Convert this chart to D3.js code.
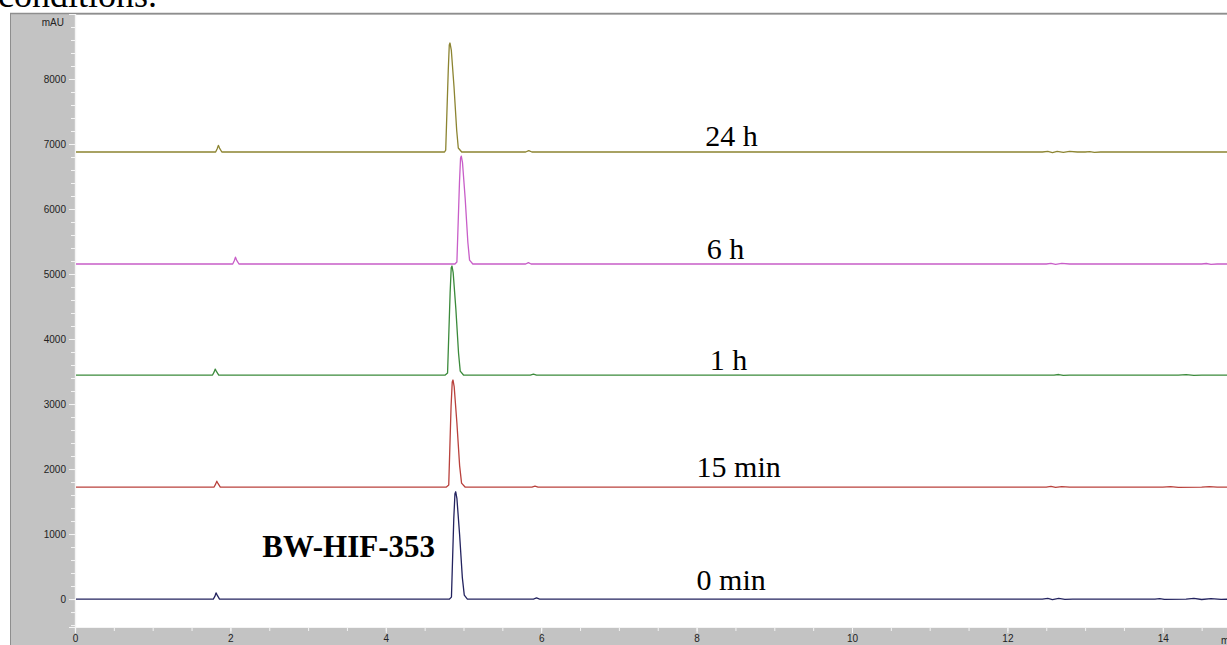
<!DOCTYPE html>
<html>
<head>
<meta charset="utf-8">
<script src="https://cdn.jsdelivr.net/npm/d3@7"></script>
<style>
  body { margin: 0; background: #fff; overflow: hidden; }
  svg { display: block; }
</style>
</head>
<body>
<div id="chart"></div>
<script>
// chromatogram traces, values in mAU above each trace's own offset
var traceNames   = ['0 min', '15 min', '1 h', '6 h', '24 h'];
var traceOffsets = [0, 1723, 3446, 5154, 6877];
var traceColors  = ['#23235f', '#b9413c', '#3b8a3b', '#c85ec8', '#8c8431'];

var trace0min = [[0,0],[1.78,0],[1.80,40],[1.815,95],[1.83,60],[1.86,0],
  [4.82,0],[4.845,30],[4.875,1240],[4.89,1620],[4.90,1650],[4.915,1550],[4.95,990],
  [4.985,330],[5.01,60],[5.05,0],[5.90,0],[5.94,18],[5.98,0],
  [12.45,0],[12.52,10],[12.58,-8],[12.66,9],[12.74,-6],[12.84,0],[13.9,0],[13.96,8],
  [14.02,-6],[14.3,0],[14.4,9],[14.5,-7],[14.62,8],[14.75,-5],[15,0]];
var trace15min = [[0,0],[1.79,0],[1.81,45],[1.825,90],[1.84,55],[1.87,0],
  [4.78,0],[4.81,30],[4.84,1240],[4.855,1615],[4.865,1646],[4.88,1545],[4.915,985],
  [4.95,330],[4.975,60],[5.02,0],[5.88,0],[5.92,15],[5.96,0],
  [12.5,0],[12.56,9],[12.62,-6],[12.7,8],[12.8,0],[14.0,0],[14.1,7],[14.2,-5],[14.5,0],[14.6,8],[14.7,0],[15,0]];
var trace1h = [[0,0],[1.77,0],[1.79,45],[1.805,92],[1.82,55],[1.85,0],
  [4.765,0],[4.795,30],[4.828,1270],[4.842,1650],[4.852,1677],[4.867,1575],[4.902,1010],
  [4.936,340],[4.958,60],[5.0,0],[5.86,0],[5.9,14],[5.94,0],
  [12.6,0],[12.66,8],[12.72,-5],[12.8,0],[14.2,0],[14.3,7],[14.4,-6],[14.5,0],[15,0]];
var trace6h = [[0,0],[2.03,0],[2.05,50],[2.065,105],[2.08,60],[2.11,0],
  [4.89,0],[4.915,30],[4.948,1250],[4.962,1630],[4.972,1660],[4.987,1560],[5.022,1000],
  [5.056,335],[5.078,60],[5.12,0],[5.80,0],[5.835,22],[5.87,0],
  [12.5,0],[12.56,10],[12.62,-7],[12.7,9],[12.8,0],[14.5,0],[14.56,8],[14.62,-6],[14.7,0],[15,0]];
var trace24h = [[0,0],[1.81,0],[1.83,50],[1.845,102],[1.86,60],[1.89,0],
  [4.756,0],[4.771,30],[4.804,1262],[4.817,1646],[4.826,1677],[4.843,1569],[4.878,1000],
  [4.912,338],[4.933,62],[4.977,0],[5.80,0],[5.84,20],[5.88,0],
  [12.45,0],[12.52,11],[12.58,-9],[12.64,10],[12.72,-7],[12.8,9],[12.9,0],[13.0,0],
  [13.06,7],[13.12,-6],[13.2,0],[14.9,0],[15,0]];
var traces = [trace0min, trace15min, trace1h, trace6h, trace24h];

// label positions: minutes, and mAU above the trace's offset
var labelX = [8.0, 8.0, 8.17, 8.13, 8.11];
var labelY = [138, 154, 77, 77, 92];

var compoundName = 'BW-HIF-353';
var compoundPos  = [2.41, 650];

var yTicks = [0, 1000, 2000, 3000, 4000, 5000, 6000, 7000, 8000];
var xTicks = [0, 2, 4, 6, 8, 10, 12, 14];

var width = 1227, height = 645;
var plotLeft = 75, plotTop = 14, plotBottom = 627;

var svg = d3.select('#chart').append('svg')
    .attr('width', width)
    .attr('height', height);

// caption fragment cut off at the top (as in the source page)
svg.append('text')
    .attr('x', -2).attr('y', 7)
    .style('font-family', '"Liberation Serif", "Times New Roman", serif')
    .style('font-size', '36px')
    .text('conditions.');

// grey frame
svg.append('rect')
    .attr('x', 10).attr('y', 13)
    .attr('width', width - 10).attr('height', height - 13)
    .attr('fill', '#c3c3c3');
svg.append('line')
    .attr('x1', 10).attr('x2', width).attr('y1', 13.5).attr('y2', 13.5)
    .attr('stroke', '#8e8e8e').attr('stroke-width', 1.5);
svg.append('line')
    .attr('x1', 10.5).attr('x2', 10.5).attr('y1', 13).attr('y2', height)
    .attr('stroke', '#8e8e8e').attr('stroke-width', 1);

var fx = d3.scaleLinear().domain([0, 15]).range([plotLeft, plotLeft + 15 * 77.7]);
var fy = d3.scaleLinear().domain([-430, 9000]).range([plotBottom, plotTop]);

svg.append('rect')
    .attr('x', plotLeft).attr('y', plotTop + 1)
    .attr('width', width - plotLeft).attr('height', plotBottom - plotTop - 1)
    .attr('fill', '#fff');

// axes
var yAxis = d3.axisLeft(fy).tickValues(yTicks).tickSize(6).tickPadding(3)
    .tickFormat(d3.format('d'));
var yMinor = d3.axisLeft(fy).tickValues(d3.range(-400, 9000, 200)).tickSize(4).tickFormat('');
var xAxis = d3.axisBottom(fx).tickValues(xTicks).tickSize(6).tickPadding(2)
    .tickFormat(d3.format('d'));
var xMinor = d3.axisBottom(fx).tickValues(d3.range(0, 15.01, 0.5)).tickSize(4).tickFormat('');

function styleAxis(g) {
    g.select('.domain').attr('stroke', '#f4f4f4').attr('stroke-width', 1.2);
    g.selectAll('.tick line').attr('stroke', '#f4f4f4');
    g.selectAll('.tick text')
        .attr('fill', '#222')
        .style('font-family', '"Liberation Sans", Arial, sans-serif')
        .style('font-size', '10px');
}

svg.append('g').attr('transform', 'translate(' + plotLeft + ',0)').call(yMinor).call(styleAxis);
svg.append('g').attr('transform', 'translate(' + plotLeft + ',0)').call(yAxis).call(styleAxis);
svg.append('g').attr('transform', 'translate(0,' + plotBottom + ')').call(xMinor).call(styleAxis);
svg.append('g').attr('transform', 'translate(0,' + plotBottom + ')').call(xAxis).call(styleAxis);

svg.append('text')
    .attr('x', 64).attr('y', 26)
    .attr('text-anchor', 'end')
    .attr('fill', '#222')
    .style('font-family', '"Liberation Sans", Arial, sans-serif')
    .style('font-size', '10px')
    .text('mAU');
svg.append('text')
    .attr('x', 1221).attr('y', 644)
    .attr('fill', '#222')
    .style('font-family', '"Liberation Sans", Arial, sans-serif')
    .style('font-size', '10px')
    .text('min');

// traces
svg.append('clipPath').attr('id', 'plotclip')
    .append('rect')
    .attr('x', plotLeft + 1).attr('y', plotTop + 1)
    .attr('width', width - plotLeft).attr('height', plotBottom - plotTop - 2);

var traceG = svg.append('g').attr('clip-path', 'url(#plotclip)');
traces.forEach(function(pts, i) {
    var line = d3.line()
        .x(function(d) { return fx(d[0]); })
        .y(function(d) { return fy(d[1] + traceOffsets[i]); });
    traceG.append('path')
        .datum(pts)
        .attr('d', line)
        .attr('fill', 'none')
        .attr('stroke', traceColors[i])
        .attr('stroke-width', 1.3)
        .attr('stroke-linejoin', 'round');
});

// trace labels
traceNames.forEach(function(name, i) {
    svg.append('text')
        .attr('x', fx(labelX[i]))
        .attr('y', fy(labelY[i] + traceOffsets[i]))
        .style('font-family', '"Liberation Serif", "Times New Roman", serif')
        .style('font-size', '30px')
        .attr('fill', '#000')
        .text(name);
});

svg.append('text')
    .attr('x', fx(compoundPos[0]))
    .attr('y', fy(compoundPos[1]))
    .style('font-family', '"Liberation Serif", "Times New Roman", serif')
    .style('font-size', '31px')
    .style('font-weight', 'bold')
    .attr('fill', '#000')
    .text(compoundName);
</script>
</body>
</html>
